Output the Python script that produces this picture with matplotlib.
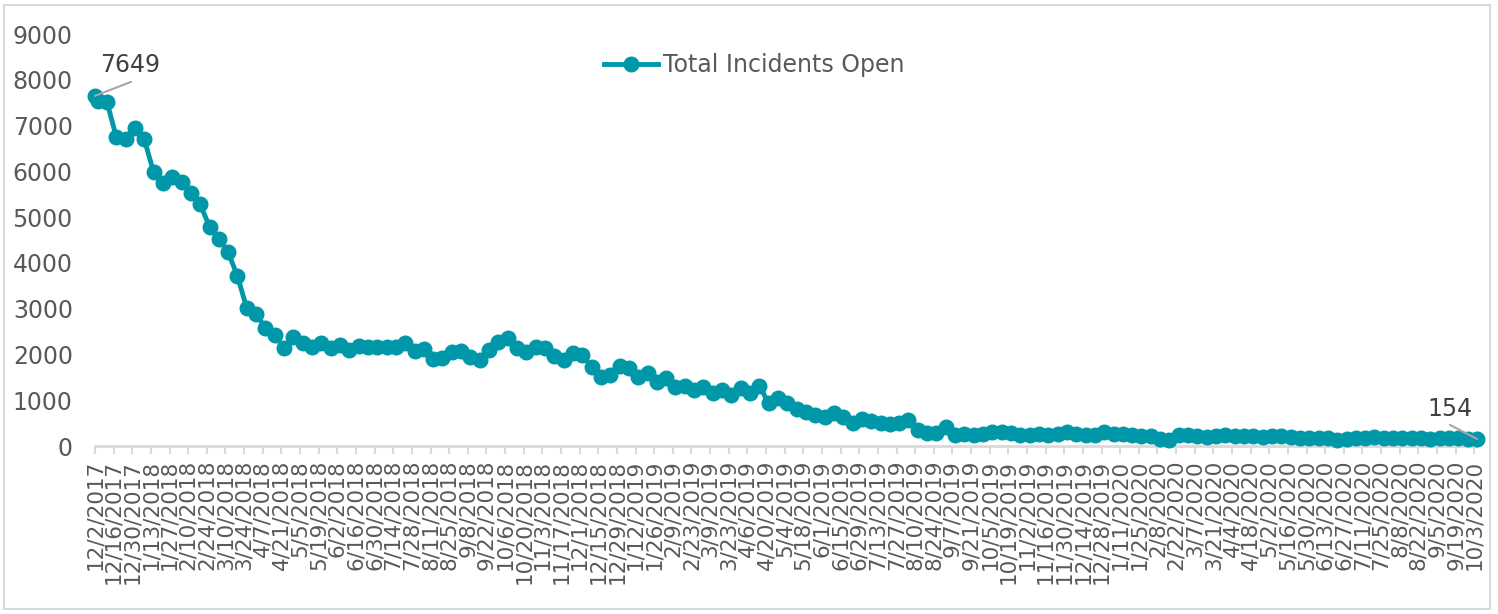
import pandas as pd
import matplotlib
matplotlib.use('Agg')
import matplotlib.pyplot as plt
from matplotlib.patches import Rectangle

# Data: one reading on 12/2/2017, then weekly (Mondays) readings
first_date = '2017-12-02'
weekly_start = '2017-12-04'
weekly_end = '2020-10-05'

first_value = 7649
weekly_values = [
    7540, 7510, 6750, 6700, 6940, 6700, 5985, 5740, 5880, 5770,
    5520, 5280, 4790, 4520, 4235, 3710, 3010, 2880, 2580, 2425,
    2135, 2375, 2245, 2170, 2245, 2140, 2205, 2100, 2190, 2170,
    2170, 2170, 2170, 2240, 2085, 2110, 1900, 1915, 2060, 2075,
    1950, 1880, 2100, 2265, 2350, 2135, 2060, 2170, 2135, 1965,
    1880, 2025, 1990, 1720, 1500, 1550, 1750, 1700, 1515, 1600,
    1405, 1480, 1295, 1310, 1225, 1280, 1150, 1225, 1115, 1260,
    1150, 1320, 930, 1040, 945, 800, 750, 675, 625, 730,
    625, 510, 585, 555, 510, 480, 495, 570, 350, 290,
    280, 420, 230, 260, 250, 270, 310, 300, 280, 250,
    250, 270, 240, 260, 300, 260, 240, 250, 300, 270,
    260, 240, 220, 210, 150, 130, 250, 230, 210, 200,
    220, 230, 220, 220, 210, 200, 220, 210, 190, 180,
    170, 180, 170, 130, 160, 170, 180, 190, 170, 180,
    170, 180, 170, 160, 170, 180, 170, 160, 154,
]

tick_start = '2017-12-02'
tick_end = '2020-10-03'

dates = [pd.Timestamp(first_date)] + list(pd.date_range(weekly_start, weekly_end, freq='7D'))
values = [first_value] + weekly_values

tick_dates = pd.date_range(tick_start, tick_end, freq='14D')
tick_labels = [f"{d.month}/{d.day}/{d.year}" for d in tick_dates]

TEAL = '#0098A8'
TEXT = '#595959'
AXIS = '#D9D9D9'

fig = plt.figure(figsize=(14.98, 6.14), dpi=100)
ax = fig.add_axes([95 / 1498, 1 - 446 / 614, (1477 - 95) / 1498, (446 - 34) / 614])

ax.plot(dates, values, color=TEAL, lw=3.5, marker='o', markersize=10.5,
        label='Total Incidents Open', zorder=3, clip_on=False)

ax.set_xlim(dates[0], dates[-1])
ax.set_ylim(0, 9000)
ax.set_yticks(range(0, 9001, 1000))
ax.set_xticks(tick_dates)
ax.set_xticklabels(tick_labels, rotation=90, fontsize=15.5, color=TEXT)
ax.tick_params(axis='y', length=0, pad=16, labelsize=17, labelcolor=TEXT)
ax.tick_params(axis='x', direction='out', length=6, width=1.5, color=AXIS, pad=4)

for side in ['top', 'right', 'left']:
    ax.spines[side].set_visible(False)
ax.spines['bottom'].set_color(AXIS)
ax.spines['bottom'].set_linewidth(2)

# data labels with leader lines
px = 0.72
ax.annotate('', xy=(dates[0], values[0]), xytext=(36 * px, 14 * px), textcoords='offset points',
            arrowprops=dict(arrowstyle='-', color='#A6A6A6', lw=1.5, shrinkA=0, shrinkB=0), zorder=4)
ax.annotate('7649', xy=(dates[0], values[0]), xytext=(35 * px, 31 * px), textcoords='offset points',
            ha='center', va='center', fontsize=17, color='#404040')
ax.annotate('', xy=(dates[-1], values[-1]), xytext=(-27 * px, 14 * px), textcoords='offset points',
            arrowprops=dict(arrowstyle='-', color='#A6A6A6', lw=1.5, shrinkA=0, shrinkB=0), zorder=4)
ax.annotate('154', xy=(dates[-1], values[-1]), xytext=(-27 * px, 30 * px), textcoords='offset points',
            ha='center', va='center', fontsize=17, color='#404040')

fig.legend(loc='center', bbox_to_anchor=(754 / 1498, 1 - 65 / 614), frameon=False,
           fontsize=17, labelcolor=TEXT, handlelength=2.3, handletextpad=0.2, numpoints=1)

# chart area border
fig.patches.append(Rectangle((4 / 1498, 1 - 609 / 614), (1490 - 4) / 1498, (609 - 5) / 614,
                             transform=fig.transFigure, fill=False, edgecolor=AXIS, lw=1.5))

fig.savefig('out.png', dpi=100)
